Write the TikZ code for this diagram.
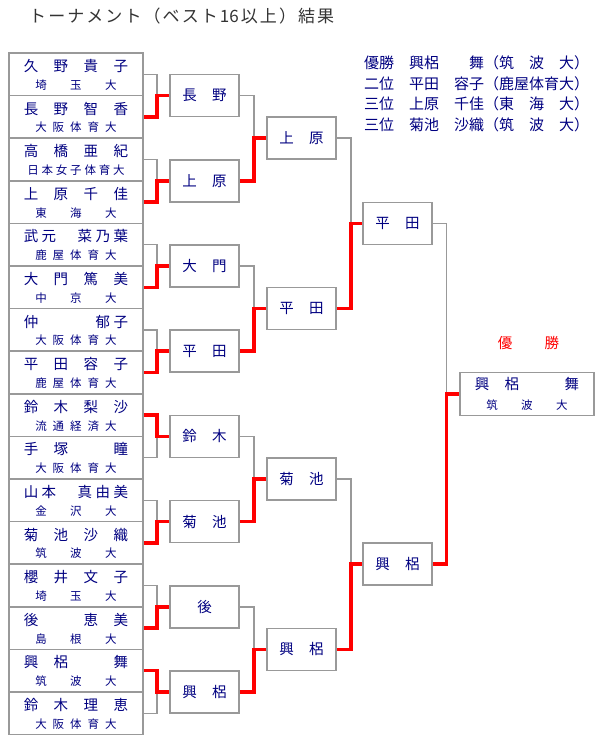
\documentclass[tikz,border=0pt]{standalone}
\usepackage{fontspec}
\newfontfamily\jp{Noto Sans CJK JP}
\usetikzlibrary{calc}

\definecolor{namenavy}{HTML}{000080}
\definecolor{framegray}{HTML}{999999}
\definecolor{titlegray}{HTML}{333333}
\definecolor{winred}{HTML}{FF0000}

% spread the characters of #2 evenly over the width #1
\newcommand\spreadbox[2]{\hbox to #1{\hfil\expandafter\spreadfirst#2\relax\hfil}}
\def\spreadfirst#1{#1\spreadnext}
\def\spreadnext#1{\ifx\relax#1\else\hfill#1\expandafter\spreadnext\fi}
\def\sixteen{16}

\begin{document}
\begin{tikzpicture}[
  x=1pt, y=-1pt,
  every node/.style={font=\jp, text=namenavy, inner sep=0pt},
  pname/.style={font=\jp\fontsize{14.5}{16}\selectfont},
  pschool/.style={font=\jp\fontsize{11.5}{13}\selectfont},
  pbox/.style={draw=framegray, line width=1.5pt, minimum width=134pt, minimum height=42.6pt},
  rbox/.style={draw=framegray, line width=1.5pt, minimum width=69pt, minimum height=42pt,
    font=\jp\fontsize{14.5}{16}\selectfont},
  link/.style={draw=framegray, line width=1.5pt},
  win/.style={draw=winred, line width=3.5pt},
]
\useasboundingbox (0,0) rectangle (600,750);

% Title
\node[font=\jp\fontsize{17}{19}\selectfont, text=titlegray, anchor=west] (title) at (29,16)
  {\spreadbox{305pt}{トーナメント（ベスト\sixteen 以上）結果}};

% Results
\foreach \ln [count=\k] in {優勝　興梠　　舞（筑　波　大）, 二位　平田　容子（鹿屋体育大）,
  三位　上原　千佳（東　海　大）, 三位　菊池　沙織（筑　波　大）}
  \node[font=\jp\fontsize{15}{17}\selectfont, anchor=west] (res\k) at (364, {63+20.5*(\k-1)}) {\ln};

% Players
\foreach \nm/\sc/\sw [count=\i] in {
  久野貴子/埼玉大/81.5, 長野智香/大阪体育大/81.5, 高橋亜紀/日本女子体育大/97.5, 上原千佳/東海大/81.5,
  武元　菜乃葉/鹿屋体育大/81.5, 大門篤美/中京大/81.5, 仲　　　郁子/大阪体育大/81.5, 平田容子/鹿屋体育大/81.5,
  鈴木梨沙/流通経済大/81.5, 手塚　瞳/大阪体育大/81.5, 山本　真由美/金沢大/81.5, 菊池沙織/筑波大/81.5,
  櫻井文子/埼玉大/81.5, 後　恵美/島根大/81.5, 興梠　舞/筑波大/81.5, 鈴木理恵/大阪体育大/81.5}
{
  \node[pbox] (p\i) at (76, {74.3+42.6*(\i-1)}) {};
  \node[pname] (pn\i) at ($(p\i.center)+(0,-8.3)$) {\spreadbox{104.5pt}{\nm}};
  \node[pschool] (ps\i) at ($(p\i.center)+(0,10.7)$) {\spreadbox{\sw pt}{\sc}};
}

% Rounds
\foreach \nm [count=\j] in {長野,上原,大門,平田,鈴木,菊池,後,興梠}
  \node[rbox] (a\j) at (204.5, {95.6+85.2*(\j-1)}) {\spreadbox{44.5pt}{\nm}};
\foreach \nm [count=\j] in {上原,平田,菊池,興梠}
  \node[rbox] (b\j) at (301.5, {138.2+170.4*(\j-1)}) {\spreadbox{44.5pt}{\nm}};
\foreach \nm [count=\j] in {平田,興梠}
  \node[rbox] (c\j) at (397.5, {223.4+340.8*(\j-1)}) {\spreadbox{44.5pt}{\nm}};

% Champion
\node[pname, text=winred] (yusho) at (528.5,343) {\spreadbox{61.5pt}{優　勝}};
\node[pbox, minimum height=43pt] (champ) at (527,393.8) {};
\node[pname] (champn) at ($(champ.center)+(0,-9.8)$) {\spreadbox{104.5pt}{興梠　舞}};
\node[pschool] (champs) at ($(champ.center)+(0,11.2)$) {\spreadbox{81.5pt}{筑波大}};

% Connectors: gray for the loser, red for the winner
\foreach \j/\w/\l in {1/2/1, 2/4/3, 3/6/5, 4/8/7, 5/9/10, 6/12/11, 7/14/13, 8/15/16} {
  \draw[link] (p\l.east) -- ++(13,0) |- (a\j.west);
  \draw[win] (p\w.east) -- ++(13,0) |- (a\j.west);
}
\foreach \j/\w/\l in {1/2/1, 2/4/3, 3/6/5, 4/8/7} {
  \draw[link] (a\l.east) -- ++(14,0) |- (b\j.west);
  \draw[win] (a\w.east) -- ++(14,0) |- (b\j.west);
}
\foreach \j/\w/\l in {1/2/1, 2/4/3} {
  \draw[link] (b\l.east) -- ++(14,0) |- (c\j.west);
  \draw[win] (b\w.east) -- ++(14,0) |- (c\j.west);
}
\draw[link] (c1.east) -- ++(13.5,0) |- (champ.west);
\draw[win] (c2.east) -- ++(13.5,0) |- (champ.west);
\end{tikzpicture}
\end{document}
